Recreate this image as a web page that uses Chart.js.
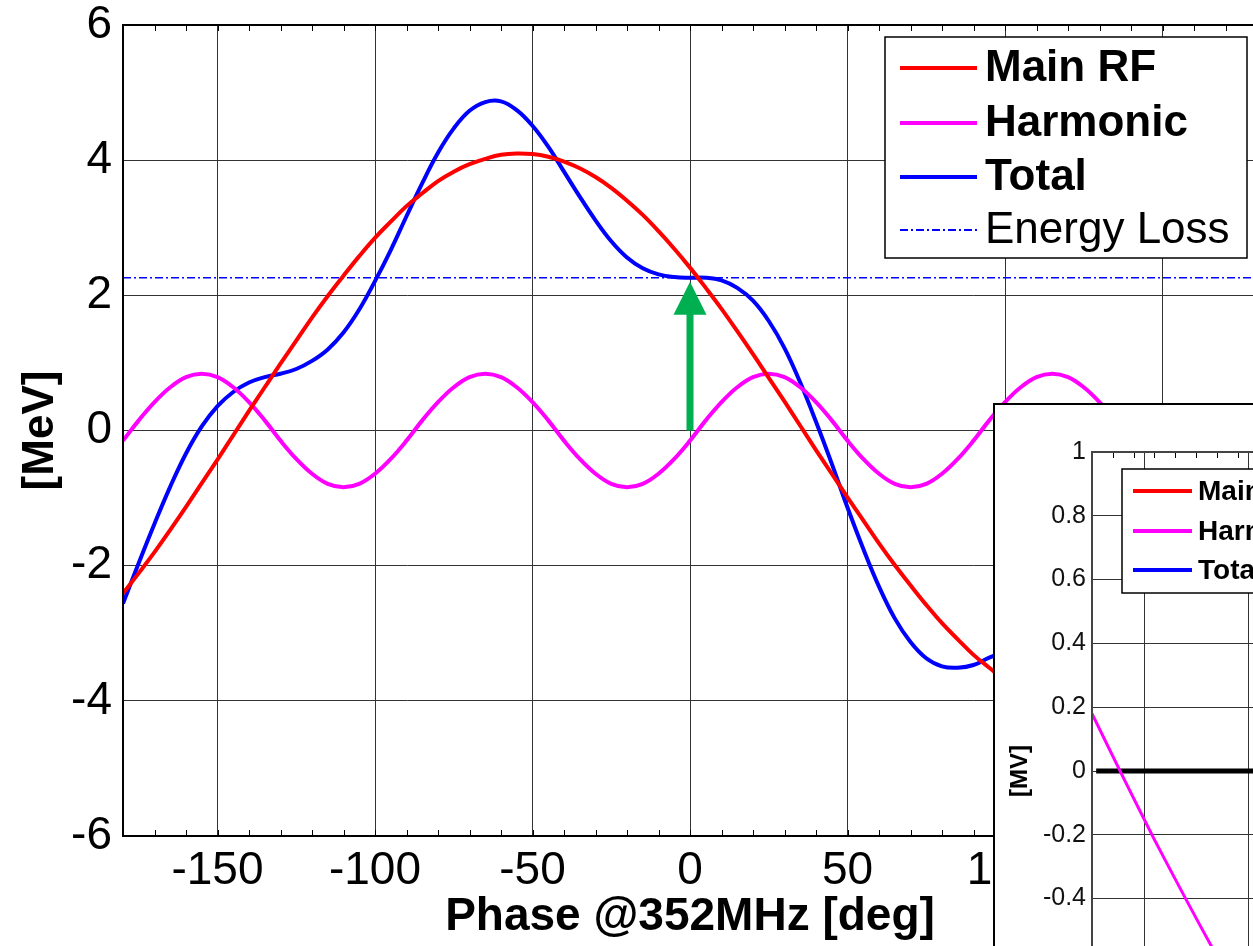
<!DOCTYPE html>
<html>
<head>
<meta charset="utf-8">
<script src="https://cdn.jsdelivr.net/npm/chart.js@4.4.1/dist/chart.umd.min.js"></script>
<style>
  html, body { margin: 0; padding: 0; overflow: hidden; background: #fff; width: 1253px; height: 946px; }
  #mainBox { position: absolute; left: 0; top: 0; }
  #insetBox { position: absolute; left: 993px; top: 403px; background: #fff;
              border-left: 2px solid #000; border-top: 2px solid #000; }
</style>
</head>
<body>
<div id="mainBox"><canvas id="main" width="1270" height="946"></canvas></div>
<div id="insetBox"><canvas id="inset" width="420" height="720"></canvas></div>
<script>
// phase grid [deg @352MHz]
const phaseDeg = [-180,-175,-170,-165,-160,-155,-150,-145,-140,-135,-130,-125,-120,-115,-110,-105,-100,-95,
  -90,-85,-80,-75,-70,-65,-60,-55,-50,-45,-40,-35,-30,-25,-20,-15,-10,-5,
  0,5,10,15,20,25,30,35,40,45,50,55,60,65,70,75,80,85,
  90,95,100,105,110,115,120,125,130,135,140,145,150,155,160,165,170,175,180];

// voltages [MeV]
const mainRF = [-2.41,-2.11,-1.80,-1.47,-1.13,-0.78,-0.43,-0.07,0.29,0.64,0.99,1.33,1.67,1.99,2.29,2.58,2.85,3.09,
  3.32,3.51,3.69,3.83,3.94,4.02,4.08,4.10,4.09,4.05,3.98,3.88,3.75,3.59,3.40,3.19,2.95,2.69,
  2.41,2.11,1.80,1.47,1.13,0.78,0.43,0.07,-0.29,-0.64,-0.99,-1.33,-1.67,-1.99,-2.29,-2.58,-2.85,-3.09,
  -3.32,-3.51,-3.69,-3.83,-3.94,-4.02,-4.08,-4.10,-4.09,-4.05,-3.98,-3.88,-3.75,-3.59,-3.40,-3.19,-2.95,-2.69,-2.41];

const harmonic = [-0.15,0.15,0.42,0.64,0.79,0.84,0.79,0.64,0.42,0.15,-0.15,-0.42,-0.64,-0.79,-0.84,-0.79,-0.64,-0.42,
  -0.15,0.15,0.42,0.64,0.79,0.84,0.79,0.64,0.42,0.15,-0.15,-0.42,-0.64,-0.79,-0.84,-0.79,-0.64,-0.42,
  -0.15,0.15,0.42,0.64,0.79,0.84,0.79,0.64,0.42,0.15,-0.15,-0.42,-0.64,-0.79,-0.84,-0.79,-0.64,-0.42,
  -0.15,0.15,0.42,0.64,0.79,0.84,0.79,0.64,0.42,0.15,-0.15,-0.42,-0.64,-0.79,-0.84,-0.79,-0.64,-0.42,-0.15];

const total = [-2.56,-1.96,-1.38,-0.83,-0.34,0.06,0.36,0.57,0.71,0.79,0.84,0.91,1.03,1.20,1.45,1.79,2.21,2.67,
  3.17,3.66,4.11,4.47,4.73,4.86,4.87,4.74,4.51,4.20,3.83,3.46,3.11,2.80,2.56,2.40,2.31,2.27,
  2.26,2.26,2.22,2.11,1.92,1.62,1.22,0.71,0.13,-0.49,-1.14,-1.75,-2.31,-2.78,-3.13,-3.37,-3.49,-3.51,
  -3.47,-3.36,-3.27,-3.19,-3.15,-3.18,-3.29,-3.46,-3.67,-3.90,-4.13,-4.30,-4.39,-4.38,-4.24,-3.98,-3.59,-3.11,-2.56];

const energyLoss = 2.26;
const lossSpan = [-180, 180];
const arrowPhase = 0;
const arrowFrom = 0;
const arrowTo = 2.2;
const phaseTicks = [-150, -100, -50, 0, 50, 100, 150];

// zoomed view
const insetX = [-0.5, -0.2, 0.1, 0.4, 0.7, 1.0];
const insetHarm = [0.18, -0.02, -0.215, -0.40, -0.58, -0.75];
const insetZeroX = [-0.46, 2.5];
const insetZero = [0, 0];
const insetTicksX = [0, 1, 2];
const insetLegend = ['Main RF', 'Harmonic', 'Total'];

const FONT = "'Liberation Sans', Arial, sans-serif";
const RED = '#ff0000', MAGENTA = '#ff00ff', BLUE = '#0000ff', GREEN = '#00b050';

function pts(xs, ys) { return xs.map((x, i) => ({ x: x, y: ys[i] })); }

// keep the plot box where the layout padding puts it
function fixWidth(w) {
  return s => { s.width = w; s.paddingTop = 0; s.paddingBottom = 0; };
}

// box frame + minor ticks
const framePlugin = {
  id: 'frame',
  afterDatasetsDraw(chart, args, opts) {
    const { ctx, chartArea: a, scales: { x, y } } = chart;
    ctx.save();
    ctx.strokeStyle = '#000';
    ctx.lineWidth = 1;
    ctx.beginPath();
    for (let v = x.min; v <= x.max + 1e-9; v += opts.xMinor) {
      const px = Math.round(x.getPixelForValue(v)) + 0.5;
      ctx.moveTo(px, a.bottom); ctx.lineTo(px, a.bottom - opts.len);
      ctx.moveTo(px, a.top); ctx.lineTo(px, a.top + opts.len);
    }
    ctx.stroke();
    ctx.lineWidth = opts.width;
    ctx.strokeStyle = opts.color;
    ctx.strokeRect(a.left, a.top, a.right - a.left, a.bottom - a.top);
    ctx.restore();
  }
};

// green arrow from the zero line up to the synchronous point
const arrowPlugin = {
  id: 'arrow',
  afterDatasetsDraw(chart) {
    const { ctx, scales: { x, y } } = chart;
    const px = x.getPixelForValue(arrowPhase);
    const y0 = y.getPixelForValue(arrowFrom);
    const y1 = y.getPixelForValue(arrowTo);
    const head = 33;
    ctx.save();
    ctx.fillStyle = GREEN;
    ctx.fillRect(px - 3.5, y1 + head - 1, 7, y0 - y1 - head + 1);
    ctx.beginPath();
    ctx.moveTo(px, y1);
    ctx.lineTo(px + 16.5, y1 + head);
    ctx.lineTo(px - 16.5, y1 + head);
    ctx.closePath();
    ctx.fill();
    ctx.restore();
  }
};

// boxed legend, bold entries for the voltage curves
const legendPlugin = {
  id: 'boxLegend',
  afterDraw(chart, args, opts) {
    const { ctx, chartArea: a } = chart;
    const items = opts.items || chart.data.datasets.map(d => ({
      label: d.label, color: d.borderColor, width: d.legendWidth || d.borderWidth,
      dash: d.borderDash || [], bold: d.legendBold
    }));
    const right = a.right - opts.right;
    const left = opts.left != null ? a.left + opts.left : right - opts.w;
    const top = a.top + opts.top;
    ctx.save();
    ctx.fillStyle = '#fff';
    ctx.fillRect(left, top, opts.w, opts.h);
    ctx.strokeStyle = '#000';
    ctx.lineWidth = opts.border;
    ctx.strokeRect(left, top, opts.w, opts.h);
    items.forEach((it, i) => {
      const ry = top + opts.rows[i];
      ctx.strokeStyle = it.color;
      ctx.lineWidth = it.width;
      ctx.setLineDash(it.dash);
      ctx.beginPath();
      ctx.moveTo(left + opts.line[0], ry);
      ctx.lineTo(left + opts.line[1], ry);
      ctx.stroke();
      ctx.setLineDash([]);
      ctx.fillStyle = '#000';
      ctx.textBaseline = 'middle';
      ctx.font = (it.bold ? 'bold ' : '') + opts.size + 'px ' + FONT;
      ctx.fillText(it.label, left + opts.text, ry + 1);
    });
    ctx.restore();
  }
};

new Chart(document.getElementById('main'), {
  type: 'line',
  data: {
    datasets: [
      { label: 'Main RF', data: pts(phaseDeg, mainRF), borderColor: RED, borderWidth: 4, legendBold: true },
      { label: 'Harmonic', data: pts(phaseDeg, harmonic), borderColor: MAGENTA, borderWidth: 4, legendBold: true },
      { label: 'Total', data: pts(phaseDeg, total), borderColor: BLUE, borderWidth: 4, legendBold: true },
      { label: 'Energy Loss', data: pts(lossSpan, [energyLoss, energyLoss]), borderColor: BLUE,
        borderWidth: 1.5, legendWidth: 2, borderDash: [8, 3, 2, 3], tension: 0, legendBold: false }
    ]
  },
  options: {
    responsive: false,
    animation: false,
    layout: { padding: { top: 25, right: 13, left: 0, bottom: 0 } },
    elements: { point: { radius: 0 }, line: { tension: 0.4 } },
    scales: {
      x: {
        type: 'linear', min: -180, max: 180,
        afterBuildTicks: s => { s.ticks = phaseTicks.map(v => ({ value: v })); },
        afterFit: s => { s.height = 110; },
        grid: { color: '#333', lineWidth: 1, drawTicks: false },
        border: { display: true, color: '#000', width: 2 },
        ticks: { color: '#000', font: { family: FONT, size: 46, lineHeight: 1 }, padding: 12, maxRotation: 0, autoSkip: false },
        title: { display: true, text: 'Phase @352MHz [deg]', color: '#000',
                 font: { family: FONT, size: 46, weight: 'bold' }, padding: { top: 0, bottom: 1 } }
      },
      y: {
        type: 'linear', min: -6, max: 6,
        afterFit: fixWidth(123),
        grid: { color: '#333', lineWidth: 1, drawTicks: false },
        border: { display: true, color: '#000', width: 2 },
        ticks: { stepSize: 2, color: '#000', font: { family: FONT, size: 46, lineHeight: 1 }, padding: 11 },
        title: { display: true, text: '[MeV]', color: '#000',
                 font: { family: FONT, size: 44, weight: 'bold' }, padding: { top: 14, bottom: 0 } }
      }
    },
    plugins: {
      legend: { display: false },
      tooltip: { enabled: false },
      frame: { xMinor: 10, len: 6, width: 2, color: '#000' },
      boxLegend: { right: 10, top: 12, w: 362, h: 221, border: 1.5, size: 44,
                   rows: [31, 86, 140, 193], line: [15, 92], text: 100 }
    }
  },
  plugins: [framePlugin, arrowPlugin, legendPlugin]
});

new Chart(document.getElementById('inset'), {
  type: 'line',
  data: {
    datasets: [
      { label: 'Harmonic', data: pts(insetX, insetHarm), borderColor: MAGENTA, borderWidth: 3, tension: 0.2 },
      { label: 'zero', data: pts(insetZeroX, insetZero), borderColor: '#000', borderWidth: 5, tension: 0 }
    ]
  },
  options: {
    responsive: false,
    animation: false,
    layout: { padding: { top: 47, right: 11, left: 0, bottom: 0 } },
    elements: { point: { radius: 0 } },
    scales: {
      x: {
        type: 'linear', min: -0.5, max: 2.5,
        afterBuildTicks: s => { s.ticks = insetTicksX.map(v => ({ value: v })); },
        afterFit: s => { s.height = 35; },
        grid: { color: '#333', lineWidth: 1, drawTicks: false },
        border: { display: true, color: '#444', width: 2 },
        ticks: { display: false }
      },
      y: {
        type: 'linear', min: -1, max: 1,
        afterFit: fixWidth(97),
        grid: { color: '#333', lineWidth: 1, drawTicks: false },
        border: { display: true, color: '#444', width: 2 },
        ticks: { stepSize: 0.2, color: '#111', font: { family: FONT, size: 25, lineHeight: 1 }, padding: 6,
                 callback: v => String(Number(v.toFixed(1))) },
        title: { display: true, text: '[MV]', color: '#000',
                 font: { family: FONT, size: 24, weight: 'bold' }, padding: { top: 11, bottom: 0 } }
      }
    },
    plugins: {
      legend: { display: false },
      tooltip: { enabled: false },
      frame: { xMinor: 0.2, len: 6, width: 2, color: '#444' },
      boxLegend: {
        items: insetLegend.map((l, i) => ({ label: l, color: [RED, MAGENTA, BLUE][i], width: 4, dash: [], bold: true })),
        left: 30, right: 0, top: 17, w: 320, h: 124, border: 1.5, size: 28,
        rows: [22, 62, 101], line: [11, 70], text: 76
      }
    }
  },
  plugins: [framePlugin, legendPlugin]
});
</script>
</body>
</html>
